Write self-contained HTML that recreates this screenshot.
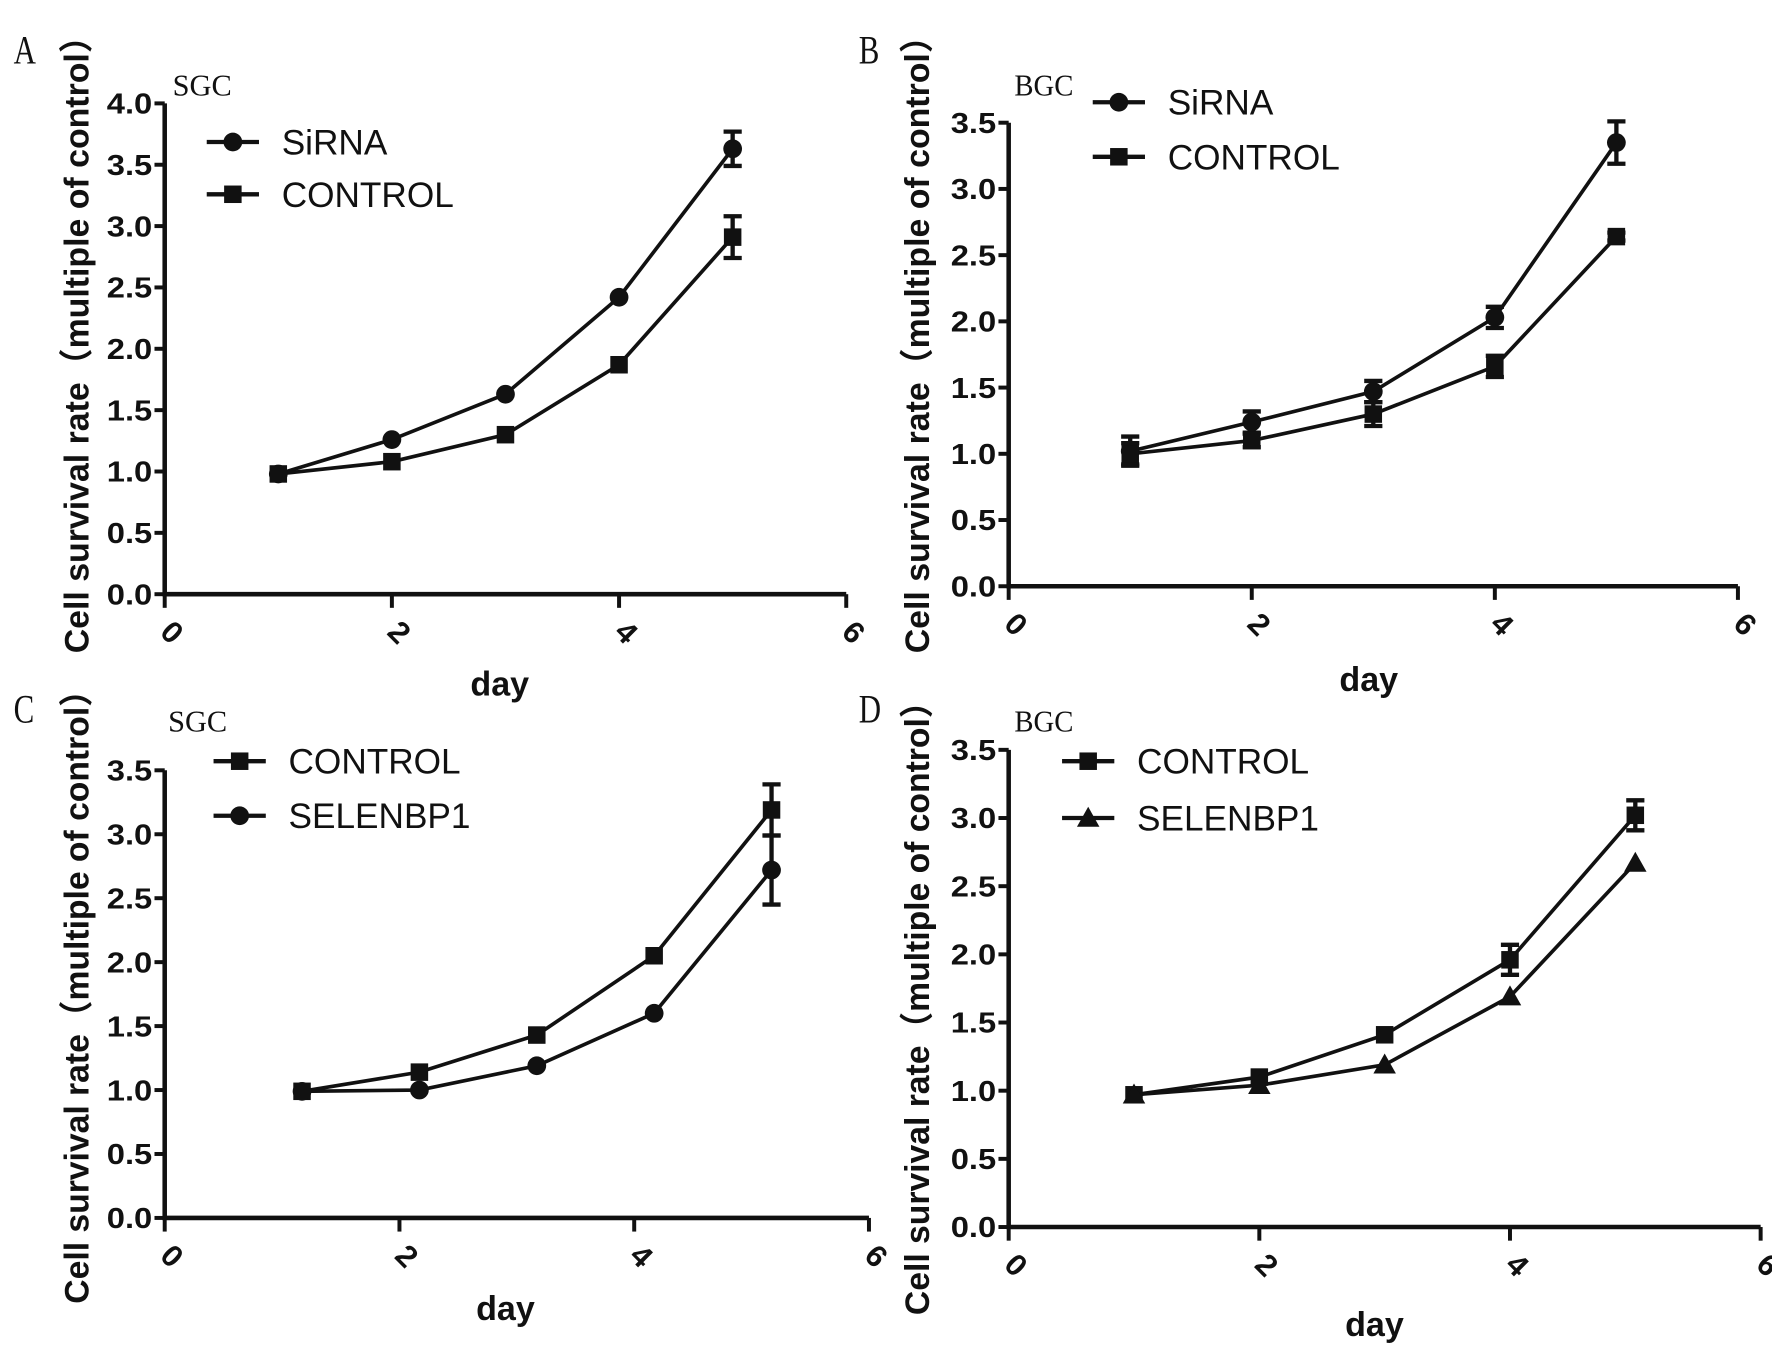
<!DOCTYPE html>
<html><head><meta charset="utf-8"><style>
html,body{margin:0;padding:0;background:#fff;}
svg{display:block;}
text{font-family:"Liberation Sans","Noto Sans CJK SC",sans-serif;fill:#111;}
.tick{font-weight:bold;font-size:25px;}
.xtick{font-weight:bold;font-size:27px;}
.leg{font-size:31px;}
.ttl{font-weight:bold;font-size:30px;}
.xl{font-weight:bold;font-size:30px;}
.ser{font-family:"Liberation Serif",serif;}
</style></head><body>
<svg id="fig" width="1772" height="1352" viewBox="0 0 1560 1190" preserveAspectRatio="none" xmlns="http://www.w3.org/2000/svg"></svg>
<script>
// Panel A (SGC)
const daysA = [1, 2, 3, 4, 5];
const sirnaA = [0.98, 1.26, 1.63, 2.42, 3.63];
const sirnaErrA = [0, 0, 0, 0, 0.14];
const controlA = [0.98, 1.08, 1.30, 1.87, 2.91];
const controlErrA = [0, 0, 0, 0, 0.17];
const yTicksA = ["0.0","0.5","1.0","1.5","2.0","2.5","3.0","3.5","4.0"];
// Panel B (BGC)
const daysB = [1, 2, 3, 4, 5];
const sirnaB = [1.02, 1.24, 1.47, 2.03, 3.35];
const sirnaErrB = [0.11, 0.08, 0.08, 0.08, 0.16];
const controlB = [1.00, 1.10, 1.30, 1.66, 2.64];
const controlErrB = [0.08, 0.05, 0.09, 0.08, 0.03];
const yTicksB = ["0.0","0.5","1.0","1.5","2.0","2.5","3.0","3.5"];
// Panel C (SGC)
const daysC = [1.17, 2.17, 3.17, 4.17, 5.17];
const controlC = [0.99, 1.14, 1.43, 2.05, 3.19];
const controlErrC = [0, 0, 0, 0, 0.2];
const selenC = [0.99, 1.00, 1.19, 1.60, 2.72];
const selenErrC = [0, 0, 0, 0, 0.27];
const yTicksC = ["0.0","0.5","1.0","1.5","2.0","2.5","3.0","3.5"];
// Panel D (BGC)
const daysD = [1, 2, 3, 4, 5];
const controlD = [0.97, 1.10, 1.41, 1.96, 3.02];
const controlErrD = [0, 0, 0, 0, 0.11, 0.11].slice(1);
const selenD = [0.97, 1.04, 1.19, 1.69, 2.67];
const selenErrD = [0, 0, 0, 0, 0];
const yTicksD = ["0.0","0.5","1.0","1.5","2.0","2.5","3.0","3.5"];
const xTicks = ["0","2","4","6"];

const NS = "http://www.w3.org/2000/svg";
const svg = document.getElementById('fig');
function mk(tag, attrs, parent, txt){
  const e = document.createElementNS(NS, tag);
  for (const k in attrs) e.setAttribute(k, attrs[k]);
  if (txt !== undefined) e.textContent = txt;
  (parent || svg).appendChild(e);
  return e;
}
function marker(g, shape, x, y, s){
  let m;
  if (shape === 'circle') m = mk('circle', {cx:x, cy:y, r:s*0.75, fill:'#111'}, g);
  else if (shape === 'square') m = mk('rect', {x:x-s*0.7, y:y-s*0.7, width:s*1.4, height:s*1.4, fill:'#111'}, g);
  else m = mk('polygon', {points:`${x},${y-s*0.9} ${x-s*0.9},${y+s*0.7} ${x+s*0.9},${y+s*0.7}`, fill:'#111'}, g);
  return m;
}
function panel(o){
  const g = mk('g', {});
  
  
  const ymaxV = (o.yTicks.length - 1) * 0.5;
  const X = v => o.x0 + (v / 6) * (o.x6 - o.x0);
  const Y = v => o.y0 - (v / ymaxV) * (o.y0 - o.ytop);
  const ax = mk('path', {d:`M${o.x0},${o.ytop} V${o.y0} H${o.x6}`, stroke:'#111', 'stroke-width':4, fill:'none'}, g);
  
  
  o.yTicks.forEach((t, i) => {
    const v = i * 0.5, y = Y(v);
    mk('line', {x1:o.x0-9, x2:o.x0, y1:y, y2:y, stroke:'#111', 'stroke-width':3.5}, g);
    const tx = mk('text', {x:o.x0-11, y:y+9, 'text-anchor':'end', class:'tick', textLength:40, lengthAdjust:'spacingAndGlyphs'}, g, t);
    
    
  });
  xTicks.forEach(t => {
    const x = X(+t);
    mk('line', {x1:x, x2:x, y1:o.y0, y2:o.y0+12, stroke:'#111', 'stroke-width':3.5}, g);
    const tx = mk('text', {x:0, y:0, 'text-anchor':'middle', class:'xtick', transform:`translate(${x},${o.y0+40}) rotate(45)`}, g, t);
    
    
  });
  o.series.forEach(s => {
    const sg = mk('g', {}, g);
    
    
    const d = s.vals.map((v, i) => (i ? 'L' : 'M') + X(o.days[i]) + ',' + Y(v)).join(' ');
    const ln = mk('path', {d, stroke:'#111', 'stroke-width':3.2, fill:'none'}, sg);
    
    
    s.vals.forEach((v, i) => {
      const x = X(o.days[i]), e = s.err[i];
      if (e > 0) {
        const eb = mk('path', {d:`M${x},${Y(v+e)} V${Y(v-e)} M${x-8},${Y(v+e)} H${x+8} M${x-8},${Y(v-e)} H${x+8}`, stroke:'#111', 'stroke-width':3.8, fill:'none'}, sg);
        
        
      }
      const m = marker(sg, s.shape, x, Y(v), 11);
      
      
    });
  });
  o.series.forEach((s, i) => {
    const ly = o.legY + i * o.legGap;
    const lg = mk('g', {}, g);
    
    
    mk('line', {x1:o.legX, x2:o.legX+46, y1:ly, y2:ly, stroke:'#111', 'stroke-width':3.8}, lg);
    marker(lg, s.shape, o.legX+23, ly, 11);
    mk('text', {x:o.legX+66, y:ly+11, class:'leg'}, lg, s.label);
  });
  const yt = mk('text', {x:0, y:0, 'text-anchor':'middle', class:'ttl', transform:`translate(${o.ytX},${o.ytY}) rotate(-90)`, textLength:o.ytLen, lengthAdjust:'spacingAndGlyphs'}, g, 'Cell survival rate（multiple of control）');
  
  
  const xt = mk('text', {x:o.xtX, y:o.xtY, 'text-anchor':'middle', class:'xl'}, g, 'day');
  
  
  const lt = mk('text', {x:o.letX, y:o.letY, class:'ser', 'font-size':32, transform:`translate(${o.letX},${o.letY}) scale(0.85,1.1) translate(${-o.letX},${-o.letY})`}, g, o.letter);
  
  
  const ct = mk('text', {x:o.cellX, y:o.cellY, class:'ser', 'font-size':27, textLength:52, lengthAdjust:'spacingAndGlyphs'}, g, o.cell);
  
  
}
panel({name:'panel-a', letter:'A', cell:'SGC', x0:145, x6:745, y0:523, ytop:91, yTicks:yTicksA, days:daysA,
  series:[{label:'SiRNA', shape:'circle', vals:sirnaA, err:sirnaErrA},{label:'CONTROL', shape:'square', vals:controlA, err:controlErrA}],
  legX:182, legY:125, legGap:46, ytX:78, ytY:296, ytLen:558, xtX:440, xtY:612, letX:12, letY:56, cellX:152, cellY:84});
panel({name:'panel-b', letter:'B', cell:'BGC', x0:888, x6:1530, y0:516, ytop:108, yTicks:yTicksB, days:daysB,
  series:[{label:'SiRNA', shape:'circle', vals:sirnaB, err:sirnaErrB},{label:'CONTROL', shape:'square', vals:controlB, err:controlErrB}],
  legX:962, legY:90, legGap:48, ytX:818, ytY:296, ytLen:558, xtX:1205, xtY:608, letX:756, letY:56, cellX:893, cellY:84});
panel({name:'panel-c', letter:'C', cell:'SGC', x0:145, x6:765, y0:1072, ytop:678, yTicks:yTicksC, days:daysC,
  series:[{label:'CONTROL', shape:'square', vals:controlC, err:controlErrC},{label:'SELENBP1', shape:'circle', vals:selenC, err:selenErrC}],
  legX:188, legY:670, legGap:48, ytX:78, ytY:870, ytLen:555, xtX:445, xtY:1162, letX:12, letY:636, cellX:148, cellY:644});
panel({name:'panel-d', letter:'D', cell:'BGC', x0:888, x6:1550, y0:1080, ytop:660, yTicks:yTicksD, days:daysD,
  series:[{label:'CONTROL', shape:'square', vals:controlD, err:controlErrD},{label:'SELENBP1', shape:'triangle', vals:selenD, err:selenErrD}],
  legX:935, legY:670, legGap:50, ytX:818, ytY:880, ytLen:555, xtX:1210, xtY:1176, letX:756, letY:636, cellX:893, cellY:644});
</script>
</body></html>
